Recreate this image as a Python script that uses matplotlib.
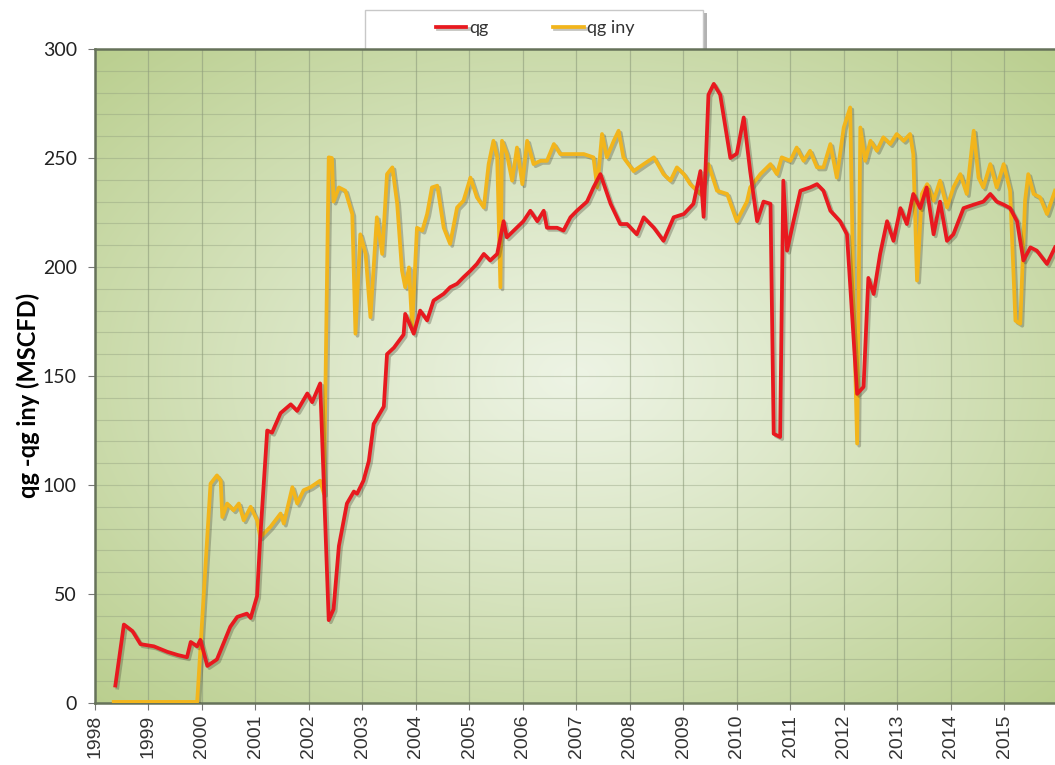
#qg vs qg iny history chart

import numpy as np
import matplotlib.pyplot as plt
import matplotlib as mpl
import matplotlib.patheffects as pe
from matplotlib.patches import Rectangle


OUT_PATH = 'out.png'

#gas rate, decimal year / MSCFD
QG_T = [1998.38, 1998.54, 1998.70, 1998.85, 1999.10, 1999.35, 1999.55, 1999.72, 1999.79,
        1999.91, 1999.97, 2000.10, 2000.28, 2000.53, 2000.66, 2000.84, 2000.91, 2001.03,
        2001.09, 2001.22, 2001.31, 2001.47, 2001.66, 2001.78, 2001.97, 2002.06, 2002.21,
        2002.37, 2002.46, 2002.56, 2002.71, 2002.84, 2002.90, 2003.02, 2003.12, 2003.21,
        2003.40, 2003.46, 2003.59, 2003.77, 2003.80, 2003.96, 2004.08, 2004.21, 2004.33,
        2004.52, 2004.64, 2004.77, 2004.89, 2005.02, 2005.14, 2005.27, 2005.39, 2005.52,
        2005.64, 2005.70, 2005.83, 2006.01, 2006.14, 2006.27, 2006.39, 2006.45, 2006.64,
        2006.76, 2006.89, 2007.01, 2007.20, 2007.32, 2007.45, 2007.64, 2007.82, 2007.95,
        2008.13, 2008.26, 2008.45, 2008.63, 2008.82, 2009.01, 2009.19, 2009.32, 2009.38,
        2009.47, 2009.57, 2009.69, 2009.88, 2010.00, 2010.13, 2010.25, 2010.38, 2010.50,
        2010.63, 2010.69, 2010.81, 2010.87, 2010.94, 2011.06, 2011.19, 2011.37, 2011.50,
        2011.62, 2011.75, 2011.93, 2012.06, 2012.25, 2012.37, 2012.46, 2012.56, 2012.68,
        2012.81, 2012.93, 2013.06, 2013.18, 2013.30, 2013.43, 2013.55, 2013.68, 2013.80,
        2013.93, 2014.05, 2014.24, 2014.43, 2014.61, 2014.74, 2014.86, 2014.99, 2015.11,
        2015.24, 2015.36, 2015.49, 2015.61, 2015.80, 2015.95]
QG = [8, 36, 33, 27, 26, 23.5, 22, 21, 28,
      26, 29, 17, 20, 35, 39.5, 41, 39, 49,
      76, 125, 124, 133, 137, 134, 142, 138, 146.6,
      38, 43, 72, 91.5, 97, 96, 102, 111, 128,
      136, 160, 163, 169, 178.5, 169.4, 180, 175.5, 184.6,
      187.7, 190.7, 192.3, 195.3, 198.3, 201.4, 206, 203, 206,
      221, 213.6, 216.7, 221, 225.8, 221, 225.8, 218, 218,
      216.7, 222.8, 225.8, 230, 236.5, 242.6, 229, 219.7, 219.7,
      215, 222.8, 218, 212, 222.8, 224.3, 229, 244, 223,
      279, 284, 279, 250, 252, 268.6, 244, 221, 230,
      229, 123.5, 122, 239.6, 207.5, 221, 235, 236.5, 238,
      235, 225.8, 221, 215, 141.8, 145, 195, 187.6, 206,
      221, 212, 227, 219.7, 233.5, 227, 236.5, 215, 230,
      212, 215, 227, 228.6, 230, 233.5, 230, 228.6, 227,
      221, 203, 209, 207.5, 201.4, 209]

#injected gas
INY_T = [1998.35, 1999.91, 2000.16, 2000.28, 2000.35, 2000.38, 2000.47, 2000.59, 2000.69,
         2000.78, 2000.91, 2001.03, 2001.09, 2001.28, 2001.47, 2001.53, 2001.69, 2001.78,
         2001.90, 2002.03, 2002.21, 2002.28, 2002.37, 2002.43, 2002.46, 2002.56, 2002.68,
         2002.81, 2002.87, 2002.96, 2003.06, 2003.15, 2003.27, 2003.37, 2003.46, 2003.56,
         2003.65, 2003.74, 2003.80, 2003.87, 2003.93, 2004.02, 2004.12, 2004.21, 2004.30,
         2004.40, 2004.52, 2004.64, 2004.77, 2004.89, 2005.02, 2005.14, 2005.27, 2005.36,
         2005.45, 2005.52, 2005.58, 2005.61, 2005.70, 2005.80, 2005.89, 2005.99, 2006.08,
         2006.20, 2006.33, 2006.45, 2006.58, 2006.70, 2006.89, 2007.14, 2007.32, 2007.39,
         2007.48, 2007.57, 2007.70, 2007.79, 2007.88, 2008.07, 2008.26, 2008.45, 2008.63,
         2008.76, 2008.88, 2009.01, 2009.13, 2009.32, 2009.47, 2009.63, 2009.82, 2010.00,
         2010.19, 2010.25, 2010.44, 2010.63, 2010.75, 2010.84, 2011.00, 2011.12, 2011.25,
         2011.37, 2011.50, 2011.62, 2011.75, 2011.87, 2012.00, 2012.12, 2012.18, 2012.25,
         2012.31, 2012.40, 2012.50, 2012.62, 2012.74, 2012.87, 2012.99, 2013.12, 2013.24,
         2013.30, 2013.37, 2013.46, 2013.56, 2013.68, 2013.80, 2013.93, 2014.05, 2014.18,
         2014.30, 2014.43, 2014.52, 2014.61, 2014.74, 2014.86, 2014.99, 2015.11, 2015.21,
         2015.30, 2015.39, 2015.45, 2015.55, 2015.67, 2015.80, 2015.95]
QG_INY = [0.5, 0.5, 100.6, 104.4, 102, 85.3, 91.5, 88.4, 91.5,
          83.8, 90, 83.8, 76, 80.8, 86.9, 82.3, 99, 91.5,
          97.6, 99, 102, 96, 250.3, 250, 230, 236.5, 235,
          224.3, 169.4, 215, 206, 177, 222.8, 206, 242.6, 245.7,
          229, 198.3, 190.7, 199.8, 172.4, 218, 216.7, 224.3, 236.5,
          237.3, 218, 210.6, 227.3, 230.4, 241, 232, 227.3, 247.2,
          257.9, 250.3, 190.7, 257.9, 251.8, 239.6, 254.8, 238, 257.9,
          247.2, 248.7, 248.7, 256.4, 251.8, 251.8, 251.8, 250.3, 236.5,
          261, 250.3, 257.9, 262.5, 250.3, 244, 247.2, 250.3, 242.6,
          239.6, 245.7, 242.6, 238, 233.5, 247.2, 235, 233.5, 221,
          230, 236.5, 242.6, 247.2, 242.6, 250.3, 248.7, 254.8, 248.7,
          253.3, 245.7, 245.7, 256.4, 241, 264, 273.2, 187.6, 119,
          264, 248.7, 257.9, 253.3, 259.5, 256.4, 261, 257.9, 261,
          251.8, 193.8, 233.5, 238, 230.4, 239.6, 227.3, 236.5, 242.6,
          233.5, 262.5, 241, 236.5, 247.2, 236.5, 247.2, 235, 175.4,
          174, 230.4, 242.6, 233.5, 232, 224.3, 235]

YEARS = list(range(1998, 2016))

RED = '#e8191f'
GOLD = '#f2b51c'

W, H = 1055, 765


def main():
    mpl.rcParams.update({'font.size': 11})

    fig = plt.figure(figsize=(W / 100, H / 100), dpi=100)
    ax = fig.add_axes([95 / W, 62 / H, 960 / W, 654 / H])

    #radial green gradient behind the plot
    gx, gy = np.meshgrid(np.linspace(0, 1, 300), np.linspace(0, 1, 300))
    r = np.clip(np.hypot(gx - 0.5, gy - 0.5) / 0.707, 0, 1) ** 1.1
    c0 = np.array([0.93, 0.955, 0.895])
    c1 = np.array([0.73, 0.81, 0.56])
    img = c0 * (1 - r[..., None]) + c1 * r[..., None]
    ax.patch.set_visible(False)
    ax.imshow(img, extent=[0, 1, 0, 1], transform=ax.transAxes,
              aspect='auto', zorder=0, interpolation='bilinear')

    shadow = [pe.SimpleLineShadow(offset=(1.5, -1.5), shadow_color='#3a3a2a', alpha=0.3),
              pe.Normal()]
    ax.plot(QG_T, QG, color=RED, lw=2.7, label='qg', zorder=4,
            solid_joinstyle='round', path_effects=shadow)
    ax.plot(INY_T, QG_INY, color=GOLD, lw=2.7, label='qg iny', zorder=3,
            solid_joinstyle='round', path_effects=shadow)

    ax.set_xlim(1998, 2015.95)
    ax.set_ylim(0, 300)
    ax.set_xticks(YEARS)
    ax.set_xticklabels([str(y) for y in YEARS], rotation=90,
                       family='Liberation Sans', fontsize=14, color='#333333')
    ax.set_yticks(range(0, 301, 50))
    ax.set_yticks(range(0, 301, 10), minor=True)
    for lab in ax.get_yticklabels():
        lab.set_family('Lato')
        lab.set_fontsize(14)
        lab.set_color('#222222')
    ax.tick_params(axis='y', which='minor', length=0)
    ax.tick_params(axis='both', which='major', length=5, color='#777777')
    ax.tick_params(axis='y', pad=8)

    ax.grid(axis='x', which='major', color='#8e9c7c', lw=0.9, alpha=0.6, zorder=1)
    ax.grid(axis='y', which='both', color='#8e9c7c', lw=0.8, alpha=0.4, zorder=1)
    ax.set_axisbelow(True)

    for side in ['left', 'top', 'bottom']:
        ax.spines[side].set_color('#66725a')
        ax.spines[side].set_linewidth(1.8)
    ax.spines['right'].set_visible(False)

    ax.set_ylabel('qg -qg iny (MSCFD)', family='Lato', fontweight='bold', fontsize=17)
    ax.yaxis.set_label_coords(-0.057, 0.471)

    #legend box sits behind the plot top, like the original
    box = Rectangle((365 / W, 1 - 52 / H), 338 / W, 42 / H, transform=fig.transFigure,
                    facecolor='white', edgecolor='#c8c8c8', lw=1.0, zorder=-1,
                    path_effects=[pe.SimplePatchShadow(offset=(3, -2), shadow_rgbFace='#808080',
                                                       alpha=0.6), pe.Normal()])
    fig.patches.append(box)

    leg = fig.legend(loc='center', ncol=2, frameon=False,
                     bbox_to_anchor=(535 / W, 1 - 28 / H),
                     prop={'family': 'Lato', 'size': 13}, handlelength=1.7,
                     handletextpad=0.15, columnspacing=3.6, borderaxespad=0)
    for t in leg.get_texts():
        t.set_color('#333333')

    fig.savefig(OUT_PATH, dpi=100)
    plt.close(fig)


if __name__ == '__main__':
    main()
